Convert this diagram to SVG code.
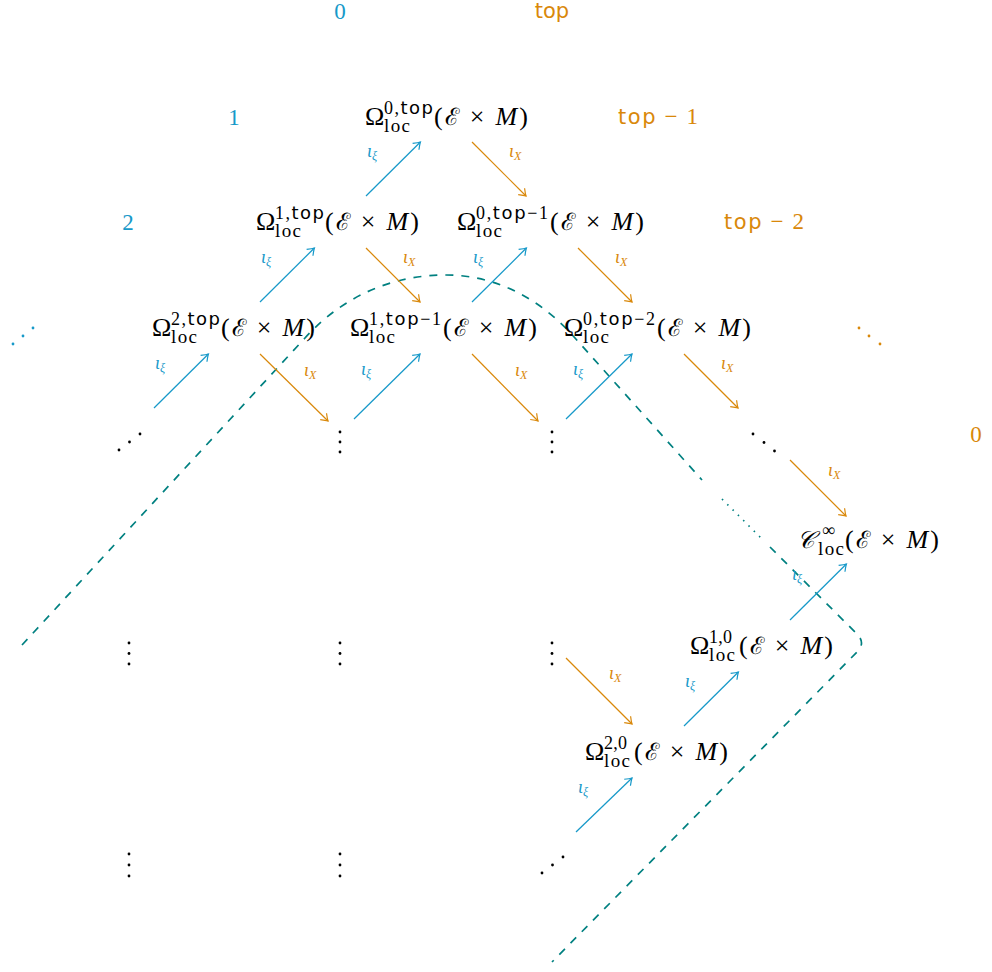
<svg xmlns="http://www.w3.org/2000/svg" width="992" height="972" viewBox="0 0 992 972">
<style>
.m{font-family:"Liberation Serif","DejaVu Serif",serif;font-size:26px;fill:#000}
.sp{font-family:"Liberation Serif","DejaVu Serif",serif;font-size:18px;fill:#000}
.sb{font-family:"Liberation Serif","DejaVu Serif",serif;font-size:19px;fill:#000}
.sf{font-family:"DejaVu Sans","Liberation Sans",sans-serif}
.cal{font-family:"DejaVu Serif",serif;font-size:24px}
.it{font-style:italic}
.lb{font-family:"Liberation Serif","DejaVu Serif",serif;font-size:18px;font-style:italic}
.s{font-size:12px}
.blue{fill:#1799c9}
.orange{fill:#d9880a}
.ab{stroke:#1799c9;stroke-width:1.25;fill:none;marker-end:url(#mb)}
.ao{stroke:#d9880a;stroke-width:1.2;fill:none;marker-end:url(#mo)}
.dash{stroke:#008080;stroke-width:1.7;fill:none;stroke-dasharray:8 8}
.dot{stroke:#008080;stroke-width:1.7;fill:none;stroke-dasharray:1.5 6}
.big{font-size:23px}
</style>
<defs>
<marker id="mb" markerWidth="14" markerHeight="14" refX="0" refY="0" orient="auto" markerUnits="userSpaceOnUse" overflow="visible"><path d="M-6.5,-4.5 Q-2,-1 0,0 Q-2,1 -6.5,4.5" fill="none" stroke="#1799c9" stroke-width="1.2"/></marker>
<marker id="mo" markerWidth="14" markerHeight="14" refX="0" refY="0" orient="auto" markerUnits="userSpaceOnUse" overflow="visible"><path d="M-6.5,-4.5 Q-2,-1 0,0 Q-2,1 -6.5,4.5" fill="none" stroke="#d9880a" stroke-width="1.2"/></marker>
</defs>

<g id="boundary">
<path class="dash" d="M22,645 L305,338 C345,294 395,275 446,275 C495,275 540,298 575,338 L702,480"/>
<path class="dot" d="M722,499 L763,540"/>
<path class="dash" d="M770,547 L857,634 Q866,643 857,652 L552,962"/>
</g>

<g id="degree-labels">
<text class="m blue big" x="340" y="19" text-anchor="middle">0</text>
<text class="m blue big" x="234" y="125" text-anchor="middle">1</text>
<text class="m blue big" x="128" y="230" text-anchor="middle">2</text>
<g id="dots-blue" class="blue"><circle cx="13" cy="344" r="1.4"/><circle cx="23" cy="336" r="1.4"/><circle cx="33" cy="328" r="1.4"/></g>
<text class="orange sf" font-size="21" x="552" y="18" text-anchor="middle">top</text>
<text class="m orange big" x="658" y="124" text-anchor="middle" textLength="80"><tspan class="sf" font-size="21">top</tspan> − 1</text>
<text class="m orange big" x="764" y="229" text-anchor="middle" textLength="80"><tspan class="sf" font-size="21">top</tspan> − 2</text>
<g id="dots-orange" class="orange"><circle cx="859" cy="328" r="1.4"/><circle cx="869" cy="336" r="1.4"/><circle cx="880" cy="344" r="1.4"/></g>
<text class="m orange big" x="976" y="442" text-anchor="middle">0</text>
</g>

<g id="n-0-top">
<text class="m" x="365" y="125">Ω</text>
<text class="sp" x="384" y="114" textLength="49">0,<tspan class="sf">top</tspan></text>
<text class="sb" x="384" y="132" textLength="26">loc</text>
<text class="m" x="434" y="125" textLength="94">(<tspan class="cal">ℰ</tspan> × <tspan class="it">M</tspan>)</text>
</g>
<g id="n-1-top">
<text class="m" x="256" y="230">Ω</text>
<text class="sp" x="275" y="219" textLength="49">1,<tspan class="sf">top</tspan></text>
<text class="sb" x="275" y="237" textLength="26">loc</text>
<text class="m" x="325" y="230" textLength="94">(<tspan class="cal">ℰ</tspan> × <tspan class="it">M</tspan>)</text>
</g>
<g id="n-0-top-1">
<text class="m" x="457" y="230">Ω</text>
<text class="sp" x="476" y="219" textLength="72">0,<tspan class="sf">top</tspan>−1</text>
<text class="sb" x="476" y="237" textLength="26">loc</text>
<text class="m" x="550" y="230" textLength="94">(<tspan class="cal">ℰ</tspan> × <tspan class="it">M</tspan>)</text>
</g>
<g id="n-2-top">
<text class="m" x="152" y="336">Ω</text>
<text class="sp" x="171" y="325" textLength="49">2,<tspan class="sf">top</tspan></text>
<text class="sb" x="171" y="343" textLength="26">loc</text>
<text class="m" x="221" y="336" textLength="94">(<tspan class="cal">ℰ</tspan> × <tspan class="it">M</tspan>)</text>
</g>
<g id="n-1-top-1">
<text class="m" x="350" y="336">Ω</text>
<text class="sp" x="369" y="325" textLength="72">1,<tspan class="sf">top</tspan>−1</text>
<text class="sb" x="369" y="343" textLength="26">loc</text>
<text class="m" x="443" y="336" textLength="94">(<tspan class="cal">ℰ</tspan> × <tspan class="it">M</tspan>)</text>
</g>
<g id="n-0-top-2">
<text class="m" x="564" y="336">Ω</text>
<text class="sp" x="583" y="325" textLength="72">0,<tspan class="sf">top</tspan>−2</text>
<text class="sb" x="583" y="343" textLength="26">loc</text>
<text class="m" x="657" y="336" textLength="94">(<tspan class="cal">ℰ</tspan> × <tspan class="it">M</tspan>)</text>
</g>
<g id="n-cinf">
<text class="m" x="797" y="548"><tspan class="cal it">𝒞</tspan></text>
<text class="sp" x="822" y="536">∞</text>
<text class="sb" x="818" y="555" textLength="26">loc</text>
<text class="m" x="845" y="548" textLength="94">(<tspan class="cal">ℰ</tspan> × <tspan class="it">M</tspan>)</text>
</g>
<g id="n-1-0">
<text class="m" x="690" y="654">Ω</text>
<text class="sp" x="709" y="643" textLength="23">1,0</text>
<text class="sb" x="709" y="661" textLength="26">loc</text>
<text class="m" x="739" y="654" textLength="94">(<tspan class="cal">ℰ</tspan> × <tspan class="it">M</tspan>)</text>
</g>
<g id="n-2-0">
<text class="m" x="585" y="760">Ω</text>
<text class="sp" x="604" y="749" textLength="23">2,0</text>
<text class="sb" x="604" y="767" textLength="26">loc</text>
<text class="m" x="634" y="760" textLength="94">(<tspan class="cal">ℰ</tspan> × <tspan class="it">M</tspan>)</text>
</g>

<g id="ellipses" fill="#000">
<g id="e-128-433"><circle cx="119" cy="450" r="1.4"/><circle cx="129.5" cy="442" r="1.4"/><circle cx="140" cy="434" r="1.4"/></g>
<g id="e-340-433"><circle cx="340" cy="432" r="1.4"/><circle cx="340" cy="442" r="1.4"/><circle cx="340" cy="452" r="1.4"/></g>
<g id="e-552-433"><circle cx="552" cy="432" r="1.4"/><circle cx="552" cy="442" r="1.4"/><circle cx="552" cy="452" r="1.4"/></g>
<g id="e-764-433"><circle cx="753" cy="434" r="1.4"/><circle cx="764" cy="442.5" r="1.4"/><circle cx="774.5" cy="451" r="1.4"/></g>
<g id="e-128-645"><circle cx="129" cy="643" r="1.4"/><circle cx="129" cy="653.5" r="1.4"/><circle cx="129" cy="664" r="1.4"/></g>
<g id="e-340-645"><circle cx="340" cy="643" r="1.4"/><circle cx="340" cy="653.5" r="1.4"/><circle cx="340" cy="664" r="1.4"/></g>
<g id="e-552-645"><circle cx="552" cy="643" r="1.4"/><circle cx="552" cy="653.5" r="1.4"/><circle cx="552" cy="664" r="1.4"/></g>
<g id="e-128-857"><circle cx="129" cy="854" r="1.4"/><circle cx="129" cy="865" r="1.4"/><circle cx="129" cy="876" r="1.4"/></g>
<g id="e-340-857"><circle cx="340" cy="854" r="1.4"/><circle cx="340" cy="865" r="1.4"/><circle cx="340" cy="876" r="1.4"/></g>
<g id="e-552-857"><circle cx="542" cy="873" r="1.4"/><circle cx="552.5" cy="865" r="1.4"/><circle cx="563" cy="857" r="1.4"/></g>
</g>

<g id="connectors">
<line class="ab" x1="366" y1="196" x2="420.4" y2="142"/>
<line class="ab" x1="260" y1="302" x2="314.4" y2="248"/>
<line class="ab" x1="472" y1="302" x2="526.4" y2="248"/>
<line class="ab" x1="154" y1="408" x2="208.4" y2="354"/>
<line class="ab" x1="354" y1="419" x2="420" y2="354"/>
<line class="ab" x1="566" y1="419" x2="632" y2="354"/>
<line class="ab" x1="790" y1="620" x2="846.4" y2="564"/>
<line class="ab" x1="684" y1="726" x2="738.4" y2="672"/>
<line class="ab" x1="576" y1="832" x2="632" y2="778"/>
<line class="ao" x1="472" y1="142" x2="526" y2="196"/>
<line class="ao" x1="366" y1="248" x2="420" y2="302"/>
<line class="ao" x1="578" y1="248" x2="632" y2="302"/>
<line class="ao" x1="260" y1="354" x2="328" y2="421"/>
<line class="ao" x1="472" y1="354" x2="538" y2="421"/>
<line class="ao" x1="684" y1="354" x2="738" y2="408"/>
<line class="ao" x1="790" y1="460" x2="846" y2="516"/>
<line class="ao" x1="566" y1="658" x2="632" y2="724"/>
<g id="labels-xi" class="blue">
<text class="lb" x="367" y="157">ι<tspan class="s" dy="3">ξ</tspan></text>
<text class="lb" x="261" y="263">ι<tspan class="s" dy="3">ξ</tspan></text>
<text class="lb" x="473" y="263">ι<tspan class="s" dy="3">ξ</tspan></text>
<text class="lb" x="155" y="369">ι<tspan class="s" dy="3">ξ</tspan></text>
<text class="lb" x="361" y="375">ι<tspan class="s" dy="3">ξ</tspan></text>
<text class="lb" x="573" y="375">ι<tspan class="s" dy="3">ξ</tspan></text>
<text class="lb" x="792" y="580">ι<tspan class="s" dy="3">ξ</tspan></text>
<text class="lb" x="685" y="687">ι<tspan class="s" dy="3">ξ</tspan></text>
<text class="lb" x="578" y="793">ι<tspan class="s" dy="3">ξ</tspan></text>
</g>
<g id="labels-x" class="orange">
<text class="lb" x="509" y="157">ι<tspan class="s" dy="3">X</tspan></text>
<text class="lb" x="403" y="263">ι<tspan class="s" dy="3">X</tspan></text>
<text class="lb" x="615" y="263">ι<tspan class="s" dy="3">X</tspan></text>
<text class="lb" x="304" y="376">ι<tspan class="s" dy="3">X</tspan></text>
<text class="lb" x="515" y="376">ι<tspan class="s" dy="3">X</tspan></text>
<text class="lb" x="721" y="369">ι<tspan class="s" dy="3">X</tspan></text>
<text class="lb" x="828" y="476">ι<tspan class="s" dy="3">X</tspan></text>
<text class="lb" x="609" y="679">ι<tspan class="s" dy="3">X</tspan></text>
</g>
</g>
</svg>
